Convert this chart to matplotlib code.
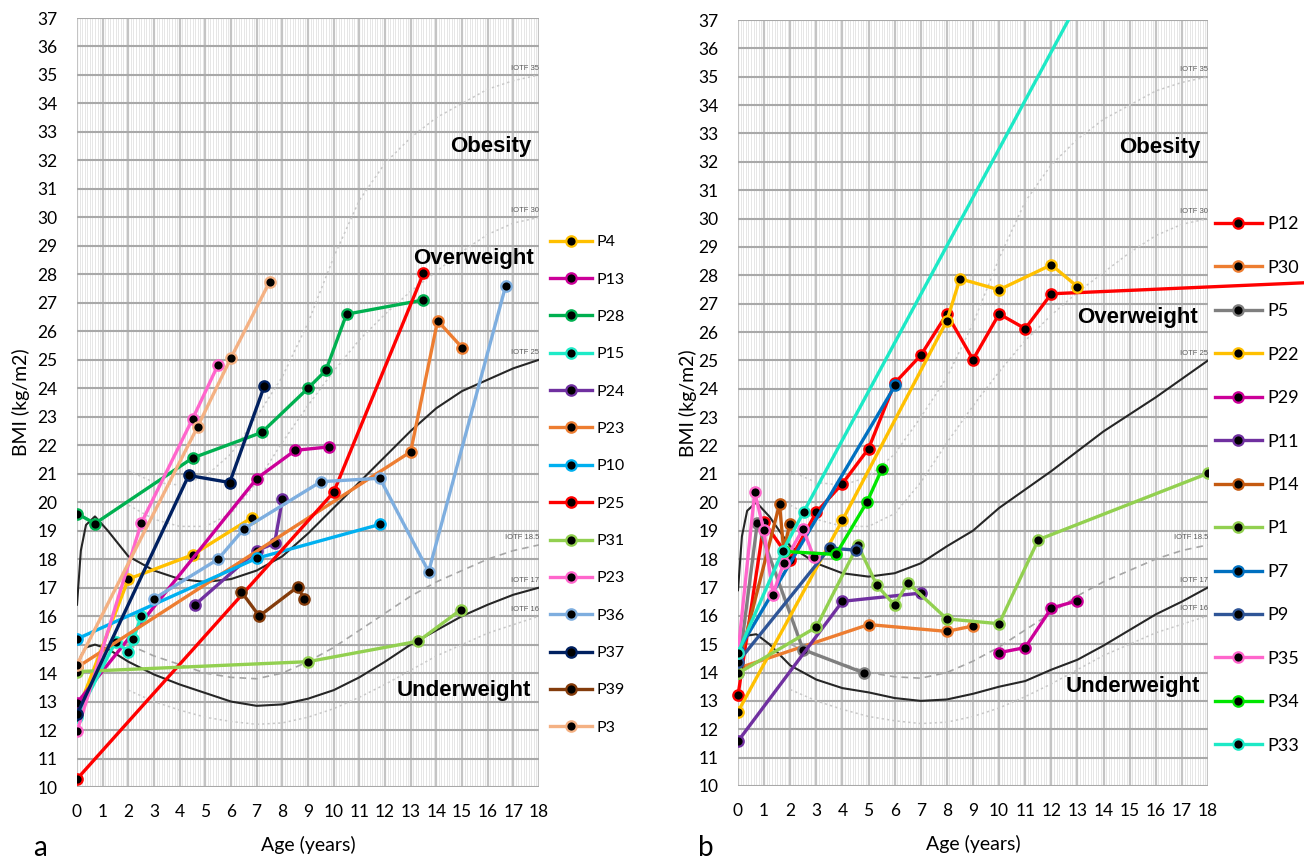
import matplotlib

matplotlib.use("Agg")
import matplotlib.pyplot as plt
import numpy as np

plt.rcParams["font.family"] = ["Lato", "DejaVu Sans"]

# ---- IOTF reference curves ----
IOTF_AGE = list(range(2, 19))
IOTF_16 = [13.4, 13.0, 12.7, 12.45, 12.3, 12.2, 12.25, 12.45, 12.75, 13.15, 13.6, 14.1, 14.6, 15.0, 15.4, 15.7, 16.0]
IOTF_185 = [15.0, 14.6, 14.3, 14.0, 13.85, 13.8, 14.0, 14.4, 14.9, 15.5, 16.1, 16.7, 17.2, 17.6, 18.0, 18.3, 18.5]
IOTF_30 = [19.9, 19.4, 19.15, 19.15, 19.6, 20.7, 22.1, 23.4, 24.6, 25.7, 26.6, 27.4, 28.1, 28.8, 29.4, 29.8, 30.0]
IOTF_35 = [21.1, 20.7, 20.6, 20.9, 21.7, 23.0, 24.4, 26.3, 28.6, 30.6, 31.9, 32.8, 33.5, 34.0, 34.5, 34.8, 35.0]

CURVE_AGE = [0, 0.15, 0.35, 0.7, 1.2, 2, 3, 4, 5, 6, 7, 8, 9, 10, 11, 12, 13, 14, 15, 16, 17, 18]
IOTF_25_A = [16.4, 18.3, 19.2, 19.5, 19.0, 18.1, 17.6, 17.3, 17.2, 17.3, 17.6, 18.1, 18.9, 19.8, 20.7, 21.6, 22.5, 23.3, 23.9, 24.3, 24.7, 25.0]
IOTF_17_A = [14.0, 14.6, 14.9, 15.0, 14.85, 14.4, 13.95, 13.6, 13.3, 13.0, 12.85, 12.9, 13.1, 13.4, 13.85, 14.4, 15.0, 15.5, 16.0, 16.4, 16.75, 17.0]
IOTF_25_B = [16.9, 18.8, 19.7, 20.0, 19.5, 18.45, 17.85, 17.5, 17.38, 17.5, 17.85, 18.45, 19.0, 19.8, 20.45, 21.1, 21.8, 22.5, 23.1, 23.7, 24.35, 25.0]
IOTF_17_B = [14.8, 15.1, 15.3, 15.35, 15.0, 14.25, 13.75, 13.45, 13.3, 13.1, 13.0, 13.05, 13.25, 13.5, 13.7, 14.1, 14.45, 14.95, 15.5, 16.05, 16.5, 17.0]

# ---- panel a patients: (name, colour, ages, BMI) ----
PANEL_A = [
    ("P4", "#FFC000", [0, 2.0, 4.5, 6.8], [12.6, 17.3, 18.15, 19.45]),
    ("P13", "#CC0099", [0, 7.0, 8.5, 9.8], [12.95, 20.83, 21.82, 21.94]),
    ("P28", "#00B050", [0, 0.7, 4.5, 7.2, 9.0, 9.7, 10.5, 13.5], [19.6, 19.25, 21.55, 22.45, 24.0, 24.63, 26.6, 27.1]),
    ("P15", "#1EEBC8", [0, 1.5, 2.0, 2.2, 2.5], [12.47, 15.1, 14.75, 15.2, 16.0]),
    ("P24", "#7030A0", [4.6, 7.0, 7.7, 8.0], [16.4, 18.3, 18.56, 20.1]),
    ("P23", "#ED7D31", [0, 13.0, 14.05, 15.0], [14.2, 21.77, 26.37, 25.43]),
    ("P10", "#00B0F0", [0, 7.0, 11.8], [15.2, 18.03, 19.22]),
    ("P25", "#FF0000", [0, 10.0, 13.5], [10.28, 20.35, 28.04]),
    ("P31", "#92D050", [0, 9.0, 13.3, 14.95], [14.05, 14.4, 15.12, 16.22]),
    ("P23", "#FF66CC", [0, 2.5, 4.5, 5.5], [11.95, 19.26, 22.92, 24.83]),
    ("P36", "#7EAEDF", [3.0, 5.5, 6.5, 9.5, 11.8, 13.7, 16.7], [16.61, 18.0, 19.06, 20.72, 20.84, 17.56, 27.59]),
    ("P37", "#002060", [0, 4.35, 5.95, 7.3], [12.55, 20.94, 20.69, 24.08]),
    ("P39", "#843C0C", [6.4, 7.1, 8.6, 8.85], [16.86, 16.0, 17.03, 16.6]),
    ("P3", "#F4B183", [0, 4.7, 6.0, 7.5], [14.3, 22.65, 25.07, 27.73]),
]

# ---- panel b patients ----
PANEL_B = [
    ("P12", "#FF0000", [0, 1.0, 2.0, 3.0, 4.0, 5.0, 6.0, 7.0, 8.0, 9.0, 10.0, 11.0, 12.0, 22.0],
     [13.19, 19.3, 17.98, 19.65, 20.66, 21.89, 24.2, 25.18, 26.64, 25.03, 26.64, 26.12, 27.35, 27.75]),
    ("P30", "#ED7D31", [0, 5.0, 8.0, 9.0], [14.15, 15.69, 15.45, 15.64]),
    ("P5", "#7F7F7F", [0, 0.74, 2.49, 4.81], [13.99, 19.28, 14.81, 13.99]),
    ("P22", "#FFC000", [0, 4.0, 8.0, 8.5, 10.0, 12.0, 13.0], [12.62, 19.37, 26.4, 27.88, 27.49, 28.37, 27.6]),
    ("P29", "#CC0099", [10.0, 11.0, 12.0, 13.0], [14.7, 14.88, 16.27, 16.53]),
    ("P11", "#7030A0", [0, 4.0, 7.0], [11.58, 16.51, 16.8]),
    ("P14", "#C55A11", [0, 1.59, 1.75, 1.98], [14.2, 19.94, 18.3, 19.22]),
    ("P1", "#92D050", [0, 3.0, 4.59, 5.32, 6.0, 6.5, 8.0, 10.0, 11.5, 18.0],
     [13.97, 15.6, 18.5, 17.07, 16.37, 17.16, 15.89, 15.72, 18.68, 21.02]),
    ("P7", "#0070C0", [0, 6.02], [14.75, 24.12]),
    ("P9", "#2F5597", [0, 3.51, 4.52], [14.37, 18.39, 18.31]),
    ("P35", "#FF66CC", [0, 0.64, 0.99, 1.34, 1.75, 2.49, 2.9], [14.7, 20.36, 19.01, 16.75, 17.86, 19.06, 18.08]),
    ("P34", "#00E600", [1.75, 3.75, 4.94, 5.51], [18.27, 18.16, 20.01, 21.17]),
    ("P33", "#1DE9C6", [0, 1.72, 2.51, 14.0], [14.7, 18.3, 19.65, 39.3]),
]

ZONES_A = [("Obesity", 17.7, 32.5), ("Overweight", 17.8, 28.55), ("Underweight", 17.7, 13.4)]
ZONES_B = [("Obesity", 17.7, 32.5), ("Overweight", 17.6, 26.5), ("Underweight", 17.7, 13.5)]


def draw_panel(ax, series, iotf25, iotf17, zones, clip_last=True, ylabelpad=6):
    ax.set_xlim(0, 18)
    ax.set_ylim(10, 37)
    ax.set_xticks(range(0, 19))
    ax.set_yticks(range(10, 38))
    ax.set_xticks(np.arange(0, 18.01, 0.1), minor=True)
    ax.grid(which="minor", axis="x", color="#E2E2E2", lw=0.6)
    ax.grid(which="major", axis="x", color="#C4C4C4", lw=1.6)
    ax.grid(which="major", axis="y", color="#A8A8A8", lw=1.5)
    ax.set_axisbelow(True)
    for s in ax.spines.values():
        s.set_visible(False)
    ax.tick_params(which="both", length=0, labelsize=12.5)
    ax.tick_params(axis="y", pad=14)
    ax.tick_params(axis="x", pad=12)

    # IOTF reference curves
    ax.plot(IOTF_AGE, IOTF_35, ls=(0, (1.5, 2)), color="#C8C8C8", lw=1.1)
    ax.plot(IOTF_AGE, IOTF_30, ls=(0, (1.5, 2)), color="#C8C8C8", lw=1.1)
    ax.plot(IOTF_AGE, IOTF_185, ls=(0, (4, 3)), color="#A6A6A6", lw=1.2)
    ax.plot(IOTF_AGE, IOTF_16, ls=(0, (1.5, 2)), color="#C8C8C8", lw=1.1)
    ax.plot(CURVE_AGE, iotf25, color="#262626", lw=1.5)
    ax.plot(CURVE_AGE, iotf17, color="#262626", lw=1.5)
    for lab, val in [("IOTF 35", 35), ("IOTF 30", 30), ("IOTF 25", 25),
                     ("IOTF 18.5", 18.5), ("IOTF 17", 17), ("IOTF 16", 16)]:
        ax.text(18, val + 0.12, lab, ha="right", va="bottom", fontsize=5.5,
                color="#595959", family="Liberation Sans")

    handles = []
    for i, (name, col, ages, bmi) in enumerate(series):
        unclipped = (not clip_last) and i == 0
        h, = ax.plot(ages, bmi, "-o", color=col, lw=2.4, ms=7.5, mfc="black",
                     mec=col, mew=1.6, label=name, clip_on=not unclipped,
                     zorder=3 + i * 0.01)
        handles.append(h)

    for txt, x, y in zones:
        ax.text(x, y, txt, ha="right", va="center", fontsize=16,
                fontweight="bold", family="Liberation Sans")
    ax.set_ylabel("BMI (kg/m2)", fontsize=14, labelpad=ylabelpad)
    ax.set_xlabel("Age (years)", fontsize=14, labelpad=12)
    return handles


fig = plt.figure(figsize=(13.04, 8.59), dpi=100)
ax_a = fig.add_axes([77 / 1304, 72 / 859, 462 / 1304, 769 / 859])
ax_b = fig.add_axes([738 / 1304, 73 / 859, 470 / 1304, 766 / 859])

h_a = draw_panel(ax_a, PANEL_A, IOTF_25_A, IOTF_17_A, ZONES_A, ylabelpad=5)
h_b = draw_panel(ax_b, PANEL_B, IOTF_25_B, IOTF_17_B, ZONES_B, clip_last=False, ylabelpad=1)

fig.legend(handles=h_a, loc="center left", bbox_to_anchor=(550 / 1304, 0.4354),
           frameon=False, fontsize=11.5, handlelength=2.6, handletextpad=0.3,
           labelspacing=1.45, borderpad=0, borderaxespad=0)
fig.legend(handles=h_b, loc="center left", bbox_to_anchor=(1215 / 1304, 0.4354),
           frameon=False, fontsize=13, handlelength=2.6, handletextpad=0.3,
           labelspacing=1.52, borderpad=0, borderaxespad=0)

fig.text(40 / 1304, 1 - 848 / 859, "a", fontsize=20, ha="center", va="center")
fig.text(706 / 1304, 1 - 848 / 859, "b", fontsize=20, ha="center", va="center")

fig.savefig("out.png", dpi=100)
